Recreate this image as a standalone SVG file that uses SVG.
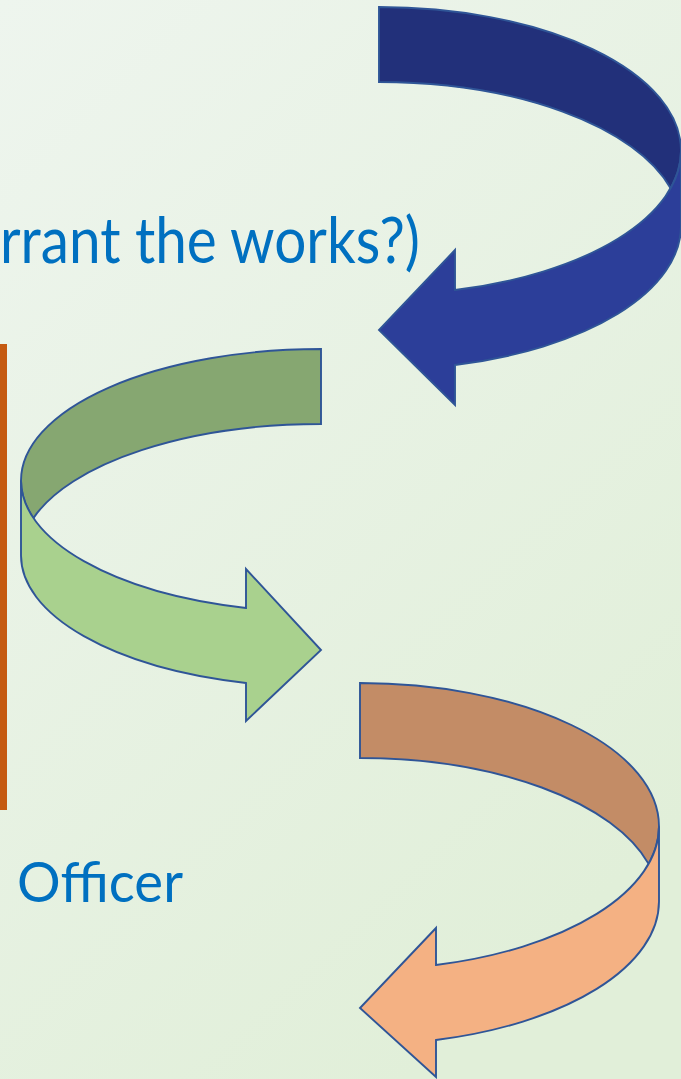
<svg xmlns="http://www.w3.org/2000/svg" width="681" height="1079" viewBox="0 0 681 1079">
  <defs>
    <linearGradient id="bg" x1="0" y1="0" x2="0.6" y2="1">
      <stop offset="0" stop-color="#EEF5EE"/>
      <stop offset="1" stop-color="#E1EFD9"/>
    </linearGradient>
  </defs>
  <style>
    .band { stroke: #2F5597; stroke-width: 1.9; stroke-linejoin: miter; }
    .lbl { font-family: Lato, "Open Sans", "Liberation Sans", sans-serif; fill: #0070C0; }
  </style>
  <rect x="0" y="0" width="681" height="1079" fill="url(#bg)"/>
  <g id="bar">
    <rect x="0" y="344" width="7" height="466" fill="#C55A11"/>
  </g>
  <g id="label-top">
    <text class="lbl" x="0" y="263" font-size="63" textLength="420" lengthAdjust="spacingAndGlyphs">rrant the works?)</text>
  </g>
  <g id="label-officer">
    <text class="lbl" x="17" y="902" font-size="56" textLength="166" lengthAdjust="spacingAndGlyphs">Officer</text>
  </g>
  <g id="connectors">
    <g id="arrow-blue">
      <path class="band" fill="#22307A" d="M379,7 A302,143.8 0 0 1 681,150.8 A302,143.8 0 0 1 670.6,188.3 A302,143.8 0 0 0 379,82 Z"/>
      <path class="band" fill="#2C3E99" d="M681,150.8 L681,225.8 A302,143.8 0 0 1 455,365 L455,405 L379,330 L455,250 L455,290 A302,143.8 0 0 0 681,150.8 Z"/>
    </g>
    <g id="arrow-green">
      <path class="band" fill="#86A771" d="M321,349 A300,131.6 0 0 0 21,480.6 A300,131.6 0 0 0 33.4,518.1 A300,131.6 0 0 1 321,424 Z"/>
      <path class="band" fill="#A9D18E" d="M21,480.6 L21,555.6 A300,131.6 0 0 0 246,683 L246,721 L321,650 L246,569 L246,608 A300,131.6 0 0 1 21,480.6 Z"/>
    </g>
    <g id="arrow-orange">
      <path class="band" fill="#C38C66" d="M360,683 A299,143.4 0 0 1 659,826.4 A299,143.4 0 0 1 648.6,863.9 A299,143.4 0 0 0 360,758 Z"/>
      <path class="band" fill="#F4B183" d="M659,826.4 L659,901.4 A299,143.4 0 0 1 436,1040 L436,1077 L360,1008 L436,928 L436,965 A299,143.4 0 0 0 659,826.4 Z"/>
    </g>
  </g>
</svg>
